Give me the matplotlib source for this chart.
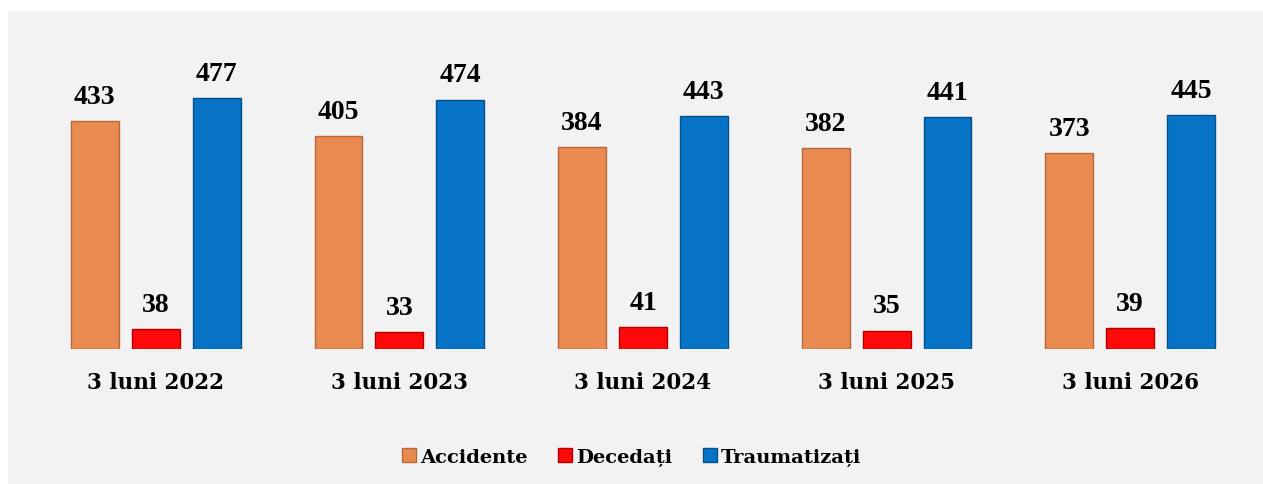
import matplotlib.pyplot as plt
import matplotlib as mp
from matplotlib.patches import Rectangle
import numpy as np

mp.rcParams['font.family'] = ['Liberation Serif', 'DejaVu Serif']

categories = ['3 luni 2022', '3 luni 2023', '3 luni 2024', '3 luni 2025', '3 luni 2026']
series_names = ['Accidente', 'Decedați', 'Traumatizați']
accidente = [433, 405, 384, 382, 373]
decedati = [38, 33, 41, 35, 39]
traumatizati = [477, 474, 443, 441, 445]

colors = ['#E98A50', '#FF0A0A', '#0673C6']
edges = ['#B5673A', '#B00000', '#03508C']

W, H = 1263, 485
fig = plt.figure(figsize=(W / 100, H / 100), dpi=100)
fig.patch.set_facecolor('white')
fig.patches.append(Rectangle((8 / W, 0), 1, 1 - 12 / H, transform=fig.transFigure,
                             facecolor='#F2F2F2', edgecolor='none', zorder=-1))

ax = fig.add_axes([34 / W, (H - 350) / H, (1252 - 34) / W, 310 / H])
ax.set_facecolor('none')

x = np.arange(len(categories))
width = 0.197
offsets = [-0.25, 0, 0.25]
for i, (vals, name) in enumerate(zip([accidente, decedati, traumatizati], series_names)):
    bars = ax.bar(x + offsets[i], vals, width, color=colors[i], edgecolor=edges[i],
                  linewidth=1.0, label=name, zorder=3)
    for b, v in zip(bars, vals):
        ax.text(b.get_x() + b.get_width() / 2, v + 23, str(v), ha='center', va='bottom',
                fontsize=20, fontweight='bold', color='black')

ax.set_xlim(-0.5, len(categories) - 0.5)
ax.set_ylim(0, 589)
ax.set_yticks([])
ax.set_xticks(x)
ax.set_xticklabels(categories, fontsize=15.5, fontweight='bold', family='DejaVu Serif')
ax.tick_params(axis='x', length=0, pad=16)
for s in ax.spines.values():
    s.set_visible(False)

leg = fig.legend(loc='center', bbox_to_anchor=(0.5, (H - 458) / H), ncol=3, frameon=False,
                 prop={'family': 'DejaVu Serif', 'weight': 'bold', 'size': 14},
                 handlelength=0.7, handleheight=0.7, handletextpad=0.2, columnspacing=1.6)

plt.savefig('out.png', dpi=100, facecolor=fig.get_facecolor())
